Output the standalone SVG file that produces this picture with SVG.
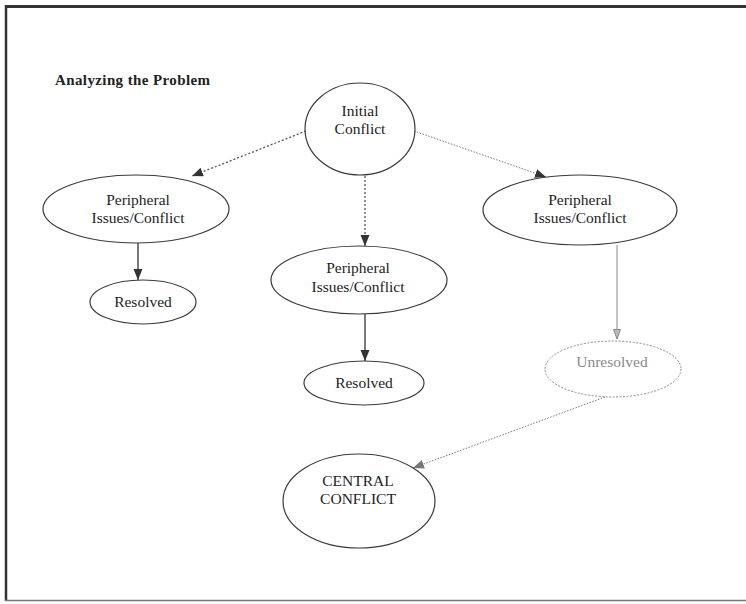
<svg xmlns="http://www.w3.org/2000/svg" width="746" height="604" viewBox="0 0 746 604">
<style>
  .node { fill: none; stroke: #3a3a3a; stroke-width: 1.2; }
  .faint { fill: none; stroke: #8a8a8a; stroke-width: 1; stroke-dasharray: 2 1.5; }
  .lbl { font-family: "Liberation Serif", "Times New Roman", serif; font-size: 15.5px; fill: #222; text-anchor: middle; }
  .lblg { font-family: "Liberation Serif", "Times New Roman", serif; font-size: 15.5px; fill: #8a8a8a; text-anchor: middle; }
  .title { font-family: "Liberation Serif", "Times New Roman", serif; font-size: 15px; font-weight: bold; fill: #222; }
  .solid { stroke: #333; stroke-width: 1.3; fill: none; }
  .dotdark { stroke: #555; stroke-width: 1.3; stroke-dasharray: 2 2; fill: none; }
  .dotgray { stroke: #777; stroke-width: 1; stroke-dasharray: 1.5 1.5; fill: none; }
  .gray { stroke: #888; stroke-width: 1; fill: none; }
</style>
<defs>
  <marker id="ahDark" markerUnits="userSpaceOnUse" markerWidth="12" markerHeight="10" refX="11" refY="4.5" orient="auto">
    <path d="M0,0 L11,4.5 L0,9 z" fill="#333"/>
  </marker>
  <marker id="ahGray" markerUnits="userSpaceOnUse" markerWidth="12" markerHeight="10" refX="11" refY="4.5" orient="auto">
    <path d="M0,0 L11,4.5 L0,9 z" fill="#777"/>
  </marker>
  <marker id="ahHollow" markerUnits="userSpaceOnUse" markerWidth="12" markerHeight="10" refX="10" refY="4" orient="auto">
    <path d="M0.5,0.5 L10,4 L0.5,7.5 z" fill="#bbb" stroke="#888" stroke-width="1"/>
  </marker>
</defs>
<rect x="0" y="0" width="746" height="604" fill="#fff"/>
<g id="frame">
  <line x1="5" y1="6.5" x2="746" y2="6.5" stroke="#333" stroke-width="3"/>
  <line x1="6" y1="5" x2="6" y2="601" stroke="#333" stroke-width="2.5"/>
  <line x1="5" y1="600.5" x2="746" y2="600.5" stroke="#777" stroke-width="1.5"/>
</g>
<g id="title">
  <text class="title" x="55" y="85" textLength="155">Analyzing the Problem</text>
</g>
<g id="connectors">
  <line class="dotdark" x1="306" y1="131" x2="192" y2="176" marker-end="url(#ahDark)"/>
  <line class="dotdark" x1="365" y1="176" x2="365" y2="246" marker-end="url(#ahDark)"/>
  <line class="dotgray" x1="414" y1="131" x2="546" y2="177" marker-end="url(#ahDark)"/>
  <line class="solid" x1="138" y1="243" x2="138" y2="280" marker-end="url(#ahDark)"/>
  <line class="solid" x1="365" y1="314" x2="365" y2="361" marker-end="url(#ahDark)"/>
  <line class="gray" x1="617" y1="245" x2="617" y2="339" marker-end="url(#ahHollow)"/>
  <line class="dotgray" x1="605" y1="397" x2="413" y2="468" marker-end="url(#ahGray)"/>
</g>
<g id="initial">
  <ellipse class="node" cx="360" cy="129" rx="55" ry="46"/>
  <text class="lbl" x="360" y="116">Initial</text>
  <text class="lbl" x="360" y="134">Conflict</text>
</g>
<g id="peripheral-left">
  <ellipse class="node" cx="136" cy="209" rx="93" ry="34"/>
  <text class="lbl" x="138" y="205">Peripheral</text>
  <text class="lbl" x="138" y="223">Issues/Conflict</text>
</g>
<g id="resolved-left">
  <ellipse class="node" cx="143" cy="302" rx="53" ry="22"/>
  <text class="lbl" x="143" y="307">Resolved</text>
</g>
<g id="peripheral-middle">
  <ellipse class="node" cx="359" cy="280" rx="88" ry="34"/>
  <text class="lbl" x="358" y="273">Peripheral</text>
  <text class="lbl" x="358" y="292">Issues/Conflict</text>
</g>
<g id="resolved-middle">
  <ellipse class="node" cx="364" cy="383" rx="60" ry="22"/>
  <text class="lbl" x="364" y="388">Resolved</text>
</g>
<g id="peripheral-right">
  <ellipse class="node" cx="580" cy="210" rx="97" ry="35"/>
  <text class="lbl" x="580" y="205">Peripheral</text>
  <text class="lbl" x="580" y="223">Issues/Conflict</text>
</g>
<g id="unresolved">
  <ellipse class="faint" cx="613" cy="369" rx="68" ry="28"/>
  <text class="lblg" x="612" y="367">Unresolved</text>
</g>
<g id="central">
  <ellipse class="node" cx="359" cy="501" rx="76" ry="47"/>
  <text class="lbl" x="358" y="486">CENTRAL</text>
  <text class="lbl" x="358" y="504">CONFLICT</text>
</g>
</svg>
